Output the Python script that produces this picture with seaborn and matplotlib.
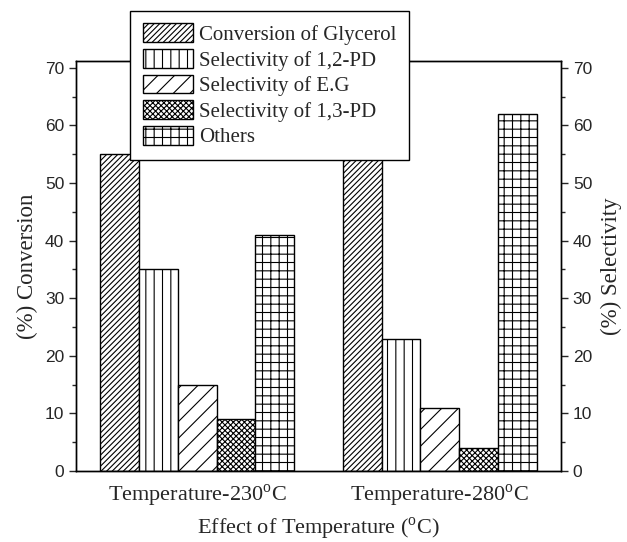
import matplotlib
matplotlib.use("Agg")
import matplotlib.pyplot as plt
from matplotlib.ticker import MultipleLocator
import pandas as pd
import seaborn as sns

# Reaction results at the two temperatures
temperatures = ["Temperature-230$^{\\mathrm{o}}$C", "Temperature-280$^{\\mathrm{o}}$C"]
series = ["Conversion of Glycerol", "Selectivity of 1,2-PD", "Selectivity of E.G",
          "Selectivity of 1,3-PD", "Others"]
conversion_glycerol = [55, 55]
selectivity_12pd = [35, 23]
selectivity_eg = [15, 11]
selectivity_13pd = [9, 4]
others = [41, 62]

hatches = ["//////", "||", "//", "xxxxxx", "++"]

sns.set_theme(style="ticks")
plt.rcParams["mathtext.fontset"] = "custom"
plt.rcParams["mathtext.rm"] = "Liberation Serif"
plt.rcParams["hatch.linewidth"] = 0.8

values = [conversion_glycerol, selectivity_12pd, selectivity_eg, selectivity_13pd, others]
rows = []
for name, vals in zip(series, values):
    for t, v in zip(temperatures, vals):
        rows.append({"Temperature": t, "Series": name, "Value": v})
df = pd.DataFrame(rows)

fig = plt.figure(figsize=(6.27, 5.42), dpi=100)
ax = fig.add_axes([76 / 627, 1 - 471 / 542, 485 / 627, 410 / 542])

palette = {s: "white" for s in series}
sns.barplot(data=df, x="Temperature", y="Value", hue="Series", order=temperatures,
            hue_order=series, palette=palette, edgecolor="black", linewidth=1.0,
            width=0.8, saturation=1, legend=False, ax=ax)

for cont, h in zip(ax.containers, hatches):
    for p in cont.patches:
        p.set_hatch(h)
        p.set_edgecolor("black")
        p.set_facecolor("white")

ax.set_xlim(-0.5, 1.5)
ax.set_ylim(0, 71.2)
ax.yaxis.set_major_locator(MultipleLocator(10))
ax.yaxis.set_minor_locator(MultipleLocator(5))

serif = "Liberation Serif"
sans = "Liberation Sans"
ax.tick_params(axis="x", length=0, pad=8)
ax.tick_params(axis="y", which="major", direction="out", length=5, width=1,
               labelsize=12.5)
ax.tick_params(axis="y", which="minor", direction="out", length=3, width=1)
for lbl in ax.get_yticklabels():
    lbl.set_fontfamily(sans)
for lbl in ax.get_xticklabels():
    lbl.set_fontfamily(serif)
    lbl.set_fontsize(16)

ax.set_xlabel("Effect of Temperature ($^{\\mathrm{o}}$C)", family=serif, fontsize=16,
              labelpad=5)
ax.set_ylabel("(%) Conversion", family=serif, fontsize=16.5, labelpad=5)

for sp in ax.spines.values():
    sp.set_color("black")
    sp.set_linewidth(1.0)

ax2 = ax.twinx()
ax2.set_ylim(ax.get_ylim())
ax2.yaxis.set_major_locator(MultipleLocator(10))
ax2.yaxis.set_minor_locator(MultipleLocator(5))
ax2.tick_params(axis="y", which="major", direction="out", length=5, width=1,
                labelsize=12.5)
ax2.tick_params(axis="y", which="minor", direction="out", length=3, width=1)
for lbl in ax2.get_yticklabels():
    lbl.set_fontfamily(sans)
ax2.set_ylabel("(%) Selectivity", family=serif, fontsize=16.5, labelpad=6)
for sp in ax2.spines.values():
    sp.set_color("black")
    sp.set_linewidth(1.0)

leg = ax2.legend(handles=list(ax.containers), labels=series, loc="upper left",
                 bbox_to_anchor=(54 / 485, 1 + 50 / 410), borderaxespad=0,
                 prop={"family": serif, "size": 15}, frameon=True, fancybox=False,
                 edgecolor="black", framealpha=1, handlelength=2.4, handleheight=1.0,
                 handletextpad=0.3, labelspacing=0.2, borderpad=0.6)
leg.get_frame().set_linewidth(1.0)

fig.savefig("out.png", dpi=100)
